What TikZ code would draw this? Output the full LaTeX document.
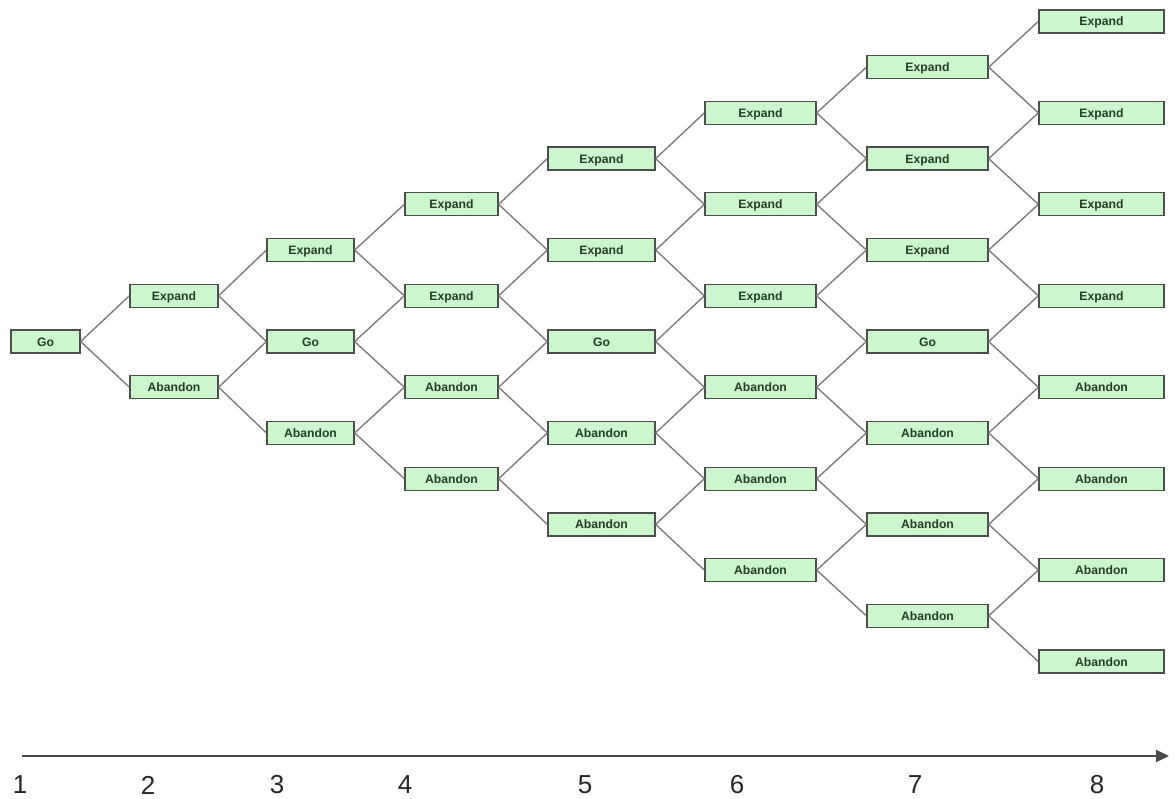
\documentclass[tikz,border=0pt]{standalone}
\usepackage{fontspec}
\setmainfont{Liberation Sans}
\usetikzlibrary{arrows.meta}
\definecolor{boxfill}{HTML}{CCF7CC}
\definecolor{boxline}{HTML}{4A4F4A}
\definecolor{edgecol}{HTML}{7A7A7A}
\definecolor{txtcol}{HTML}{243F24}
\definecolor{axiscol}{HTML}{4A4A4A}
\tikzset{
  treebox/.style={draw=boxline, line width=1.3pt, fill=boxfill, minimum height=23pt,
    inner sep=0pt, text height=9pt, text depth=0pt, text=txtcol,
    font=\fontsize{12.2}{14}\selectfont\bfseries},
  branch/.style={draw=edgecol, line width=1.35pt},
  axisline/.style={draw=axiscol, line width=2pt, -{Triangle[length=13pt,width=12pt]}},
  steplabel/.style={font=\fontsize{26}{30}\selectfont, text=black!85, inner sep=0pt}
}
\begin{document}
\begin{tikzpicture}[x=1pt,y=-1pt]
\useasboundingbox (0,0) rectangle (1175,798);
% nodes
\foreach \c/\w/\x in {1/69/45.5, 2/88/174, 3/87/310.5, 4/93/451.5, 5/107/601.5, 6/111/760.5, 7/121/927.5, 8/125/1101.5}{
  \foreach \i in {0,...,14}{
    \pgfmathtruncatemacro\aj{abs(\i-7)}
    \pgfmathtruncatemacro\pr{mod(\aj+\c+1,2)}
    \ifnum\aj<\c\relax
      \ifnum\pr=0\relax
        \node[treebox, minimum width=\w pt] (n\c x\i) at (\x, {341.5+(\i-7)*45.72})
          {\ifnum\i<7 Expand\else\ifnum\i=7 Go\else Abandon\fi\fi};
      \fi
    \fi
  }
}
% edges
\foreach \c in {1,...,7}{
  \pgfmathtruncatemacro\cn{\c+1}
  \foreach \i in {0,...,14}{
    \pgfmathtruncatemacro\aj{abs(\i-7)}
    \pgfmathtruncatemacro\pr{mod(\aj+\c+1,2)}
    \pgfmathtruncatemacro\im{\i-1}
    \pgfmathtruncatemacro\ip{\i+1}
    \ifnum\aj<\c\relax
      \ifnum\pr=0\relax
        \draw[branch] (n\c x\i.east) -- (n\cn x\im.west);
        \draw[branch] (n\c x\i.east) -- (n\cn x\ip.west);
      \fi
    \fi
  }
}
% time axis
\coordinate (axstart) at (22,756);
\coordinate (axend) at (1169,756);
\draw[axisline] (axstart) -- (axend);
\foreach \k/\x in {1/20, 2/148, 3/277, 4/405, 5/585, 6/737, 7/915, 8/1097}{
  \node[steplabel] (t\k) at (\x,785) {\k};
}
\end{tikzpicture}
\end{document}
